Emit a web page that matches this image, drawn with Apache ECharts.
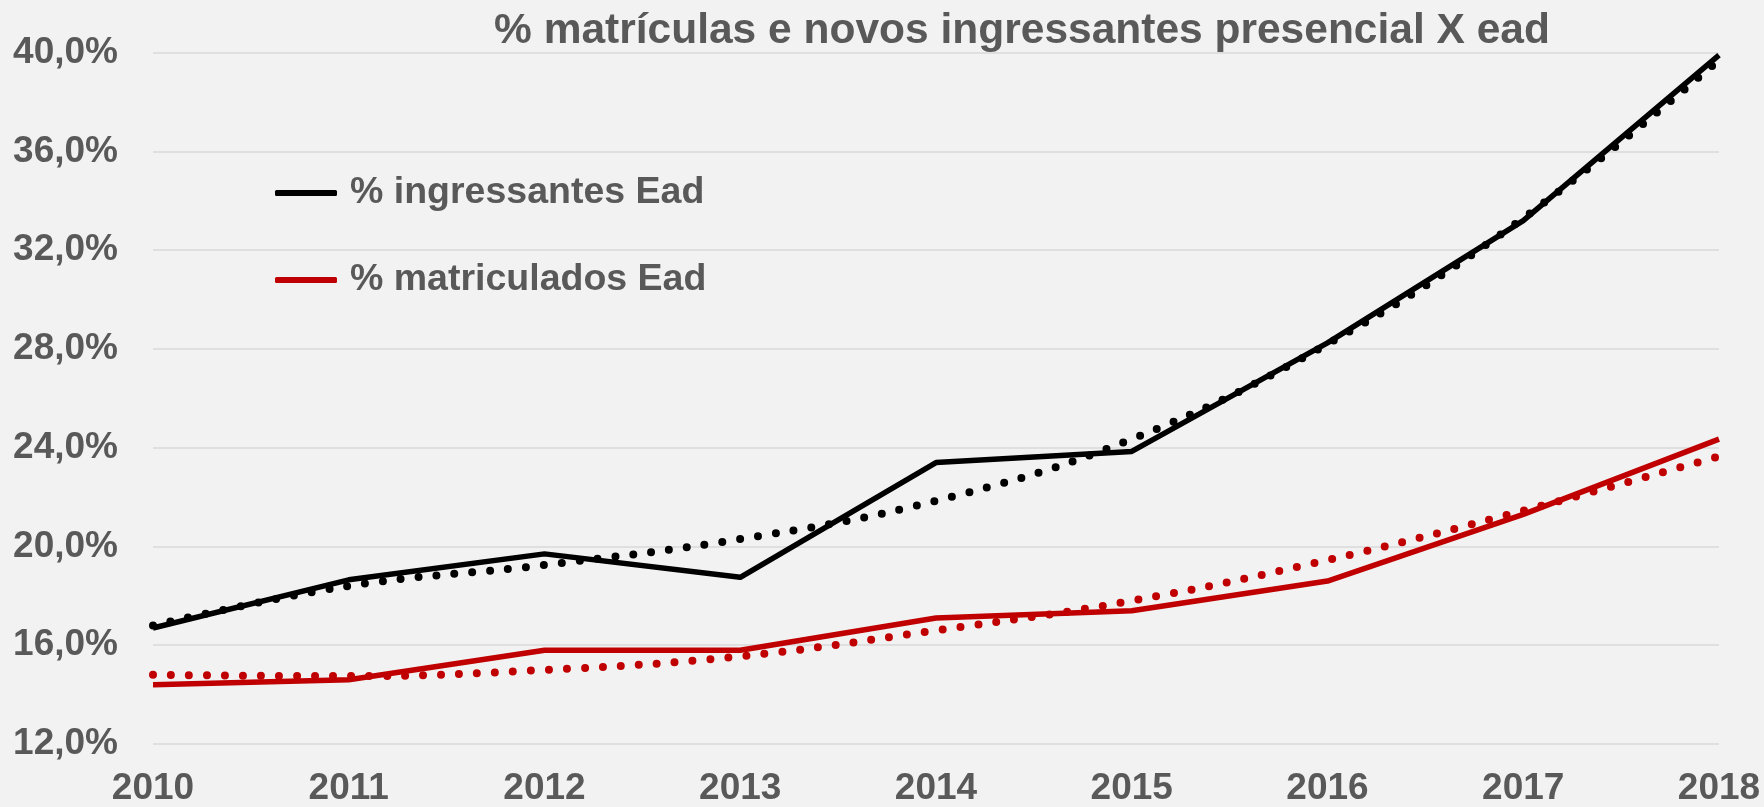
<!DOCTYPE html>
<html>
<head>
<meta charset="utf-8">
<script src="https://cdn.jsdelivr.net/npm/echarts@6/dist/echarts.min.js"></script>
<style>
  html, body { margin: 0; padding: 0; background: #f2f2f2; }
  #chart { width: 1764px; height: 807px; }
</style>
</head>
<body>
<div id="chart"></div>
<script>
const titleText = '% matrículas e novos ingressantes presencial X ead';
const years = ['2010', '2011', '2012', '2013', '2014', '2015', '2016', '2017', '2018'];
const ingressantesEad = [16.7, 18.65, 19.7, 18.75, 23.4, 23.85, 28.25, 33.2, 39.9];
const matriculadosEad = [14.4, 14.6, 15.8, 15.8, 17.1, 17.4, 18.6, 21.3, 24.35];
const trendIngressantes = [16.8, 18.4, 19.25, 20.3, 21.85, 24.35, 28.2, 33.3, 39.7];
const trendMatriculados = [14.8, 14.75, 15.0, 15.55, 16.6, 17.8, 19.45, 21.45, 23.65];
const seriesNames = ['% ingressantes Ead', '% matriculados Ead'];
const yMin = 12, yMax = 40, yStep = 4;

const textColor = '#595959';
const fontSans = 'Liberation Sans, Arial, sans-serif';
const chart = echarts.init(document.getElementById('chart'), null, { renderer: 'canvas' });
chart.setOption({
  animation: false,
  backgroundColor: '#f2f2f2',
  title: {
    text: titleText,
    left: 1017,
    textAlign: 'center',
    top: 5,
    textStyle: { fontFamily: fontSans, fontWeight: 'bold', fontSize: 42.5, color: textColor }
  },
  legend: {
    data: seriesNames,
    orient: 'vertical',
    left: 270,
    top: 169,
    itemGap: 49,
    icon: 'roundRect',
    itemWidth: 62,
    itemHeight: 6,
    textStyle: { fontFamily: fontSans, fontWeight: 'bold', fontSize: 37.5, color: textColor, padding: [0, 0, 0, 8] }
  },
  grid: { left: 153, right: 45, top: 52.7, bottom: 60.3, containLabel: false },
  xAxis: {
    type: 'category',
    data: years,
    boundaryGap: false,
    axisLine: { show: false },
    axisTick: { show: false },
    axisLabel: { margin: 26, fontFamily: fontSans, fontWeight: 'bold', fontSize: 37, color: textColor, interval: 0 }
  },
  yAxis: {
    type: 'value',
    min: yMin, max: yMax, interval: yStep,
    axisLine: { show: false },
    axisTick: { show: false },
    splitLine: { lineStyle: { color: '#d9d9d9', width: 1.5 } },
    axisLabel: {
      margin: 35,
      fontFamily: fontSans,
      fontWeight: 'bold', fontSize: 37, color: textColor,
      formatter: v => v.toFixed(1).replace('.', ',') + '%'
    }
  },
  series: [
    { name: seriesNames[0], type: 'line', data: ingressantesEad, symbol: 'none', color: '#000000',
      lineStyle: { color: '#000000', width: 5.5, join: 'round' }, z: 2 },
    { name: seriesNames[1], type: 'line', data: matriculadosEad, symbol: 'none', color: '#c00000',
      lineStyle: { color: '#c00000', width: 5.5, join: 'round' }, z: 2 },
    { name: 'trend1', type: 'line', data: trendIngressantes, symbol: 'none', smooth: 0.4,
      lineStyle: { color: '#000000', width: 8, type: [0, 18], cap: 'round' }, z: 3 },
    { name: 'trend2', type: 'line', data: trendMatriculados, symbol: 'none', smooth: 0.4,
      lineStyle: { color: '#c00000', width: 8, type: [0, 18], cap: 'round' }, z: 3 }
  ]
});
</script>
</body>
</html>
